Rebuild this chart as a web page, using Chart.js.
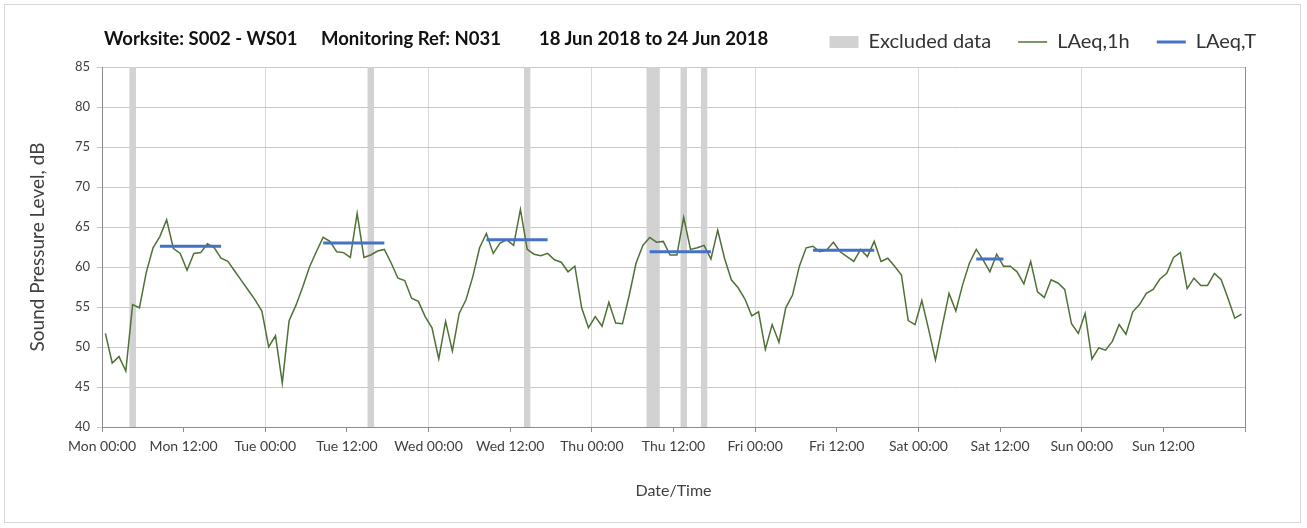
<!DOCTYPE html>
<html>
<head>
<meta charset="utf-8">
<script src="https://cdn.jsdelivr.net/npm/chart.js@4.4.1/dist/chart.umd.min.js"></script>
<style>
html,body{margin:0;padding:0;background:#fff;}
#wrap{position:relative;width:1307px;height:528px;overflow:hidden;background:#fff;}
#c{position:absolute;left:0;top:0;}
#frame{position:absolute;left:4px;top:4px;width:1297px;height:519px;border:1px solid #d9d9d9;box-sizing:border-box;pointer-events:none;}
.t{position:absolute;top:27px;font:bold 18.5px Lato,"Open Sans",sans-serif;color:#111;white-space:nowrap;line-height:22px;}
</style>
</head>
<body>
<div id="wrap">
  <canvas id="c" width="1307" height="528"></canvas>
  <div id="frame"></div>
  <div class="t" style="left:104px">Worksite: S002 - WS01</div>
  <div class="t" style="left:321px">Monitoring Ref: N031</div>
  <div class="t" style="left:539px">18 Jun 2018 to 24 Jun 2018</div>
</div>
<script>
// ---- Data ----
// x tick labels every 12 hours
const tickLabels = ["Mon 00:00","Mon 12:00","Tue 00:00","Tue 12:00","Wed 00:00","Wed 12:00",
  "Thu 00:00","Thu 12:00","Fri 00:00","Fri 12:00","Sat 00:00","Sat 12:00","Sun 00:00","Sun 12:00"];

// LAeq,1h hourly values (dB), Mon 00:00 .. Sun 23:00
const laeq1h = [
  51.7,48.0,48.8,47.0,55.3,54.9,59.3,62.4,63.8,65.9,62.3,61.7,59.6,61.7,61.8,62.9,62.4,61.1,60.7,59.5,58.3,57.1,55.9,54.5,
  50.0,51.4,45.5,53.3,55.2,57.5,60.0,61.9,63.7,63.2,61.9,61.8,61.2,66.7,61.2,61.5,62.0,62.2,60.5,58.6,58.3,56.1,55.7,53.8,
  52.4,48.5,53.2,49.5,54.2,55.9,58.8,62.4,64.2,61.7,63.0,63.4,62.7,67.2,62.2,61.6,61.4,61.7,60.9,60.6,59.4,60.1,54.9,52.4,
  53.8,52.6,55.6,53.0,52.9,56.5,60.5,62.7,63.7,63.1,63.2,61.5,61.5,66.2,62.2,62.4,62.7,61.0,64.6,61.1,58.4,57.4,56.0,53.9,
  54.4,49.7,52.8,50.6,54.9,56.5,60.1,62.4,62.6,61.9,62.1,63.1,61.9,61.3,60.7,62.2,61.3,63.2,60.7,61.1,60.1,59.0,53.3,52.8,
  55.8,52.2,48.4,52.6,56.7,54.5,57.8,60.5,62.2,60.9,59.4,61.6,60.1,60.1,59.4,57.9,60.7,56.9,56.2,58.4,58.0,57.2,52.9,51.7,
  54.2,48.5,49.9,49.6,50.7,52.8,51.6,54.4,55.3,56.7,57.2,58.5,59.2,61.2,61.8,57.3,58.6,57.7,57.7,59.2,58.4,56.1,53.6,54.1
];
// hour (from Mon 00:00) at which each hourly value is plotted (mid-hour)
const laeq1hHours = laeq1h.map((v, i) => i + 0.5);

// LAeq,T daytime periods: start hour, end hour, level
const laeqTStart = [8.5, 32.5, 56.5, 80.5, 104.5, 128.5];
const laeqTEnd   = [17.5, 41.5, 65.5, 89.5, 113.5, 132.5];
const laeqTValue = [62.6, 63.0, 63.4, 61.9, 62.1, 61.0];

// Excluded data periods (hours from Mon 00:00)
const excludedStart = [4, 39, 62, 80, 85, 88];
const excludedEnd   = [5, 40, 63, 82, 86, 89];

const yMin = 40, yMax = 85, yStep = 5;
const xMax = 168, xStep = 12;

// ---- Build datasets ----
const lPts = laeq1h.map((v, i) => ({x: laeq1hHours[i], y: v}));
const tPts = [];
laeqTStart.forEach((s, i) => {
  tPts.push({x: s, y: laeqTValue[i]}, {x: laeqTEnd[i], y: laeqTValue[i]}, {x: laeqTEnd[i], y: null});
});
const exPts = [];
excludedStart.forEach((s, i) => {
  exPts.push({x: s, y: yMax}, {x: excludedEnd[i], y: yMax}, {x: excludedEnd[i], y: null});
});

const FONT = 'Lato, "Open Sans", sans-serif';
const GREEN = '#4f7136', BLUE = '#4472c4', GREY = '#d2d2d2';

new Chart(document.getElementById('c'), {
  type: 'line',
  data: {
    datasets: [
      {label: 'Excluded data', data: exPts, borderWidth: 0, borderColor: 'rgba(0,0,0,0)',
       backgroundColor: GREY, fill: 'start', spanGaps: false, pointRadius: 0, pointStyle: 'rect',
       pointBackgroundColor: GREY, pointBorderWidth: 0, order: 3},
      {label: 'LAeq,1h', data: lPts, borderColor: GREEN, borderWidth: 1.5, fill: false,
       pointRadius: 0, pointStyle: 'line', pointBorderColor: GREEN, pointBorderWidth: 1.5, order: 2},
      {label: 'LAeq,T', data: tPts, borderColor: BLUE, borderWidth: 3, fill: false, spanGaps: false,
       borderCapStyle: 'butt', pointRadius: 0, pointStyle: 'line', pointBorderColor: BLUE, pointBorderWidth: 3, order: 1}
    ]
  },
  options: {
    responsive: false,
    animation: false,
    events: [],
    layout: {padding: {left: 10, right: 24, top: 5, bottom: 10}},
    plugins: {
      legend: {
        position: 'top', align: 'end',
        labels: {
          usePointStyle: true, pointStyleWidth: 29, boxHeight: 12, padding: 27,
          color: '#333', font: {family: FONT, size: 20},
          sort: (a, b) => a.datasetIndex - b.datasetIndex
        }
      },
      subtitle: {display: true, text: '', weight: 500, padding: {top: 0, bottom: 4}, font: {size: 1, lineHeight: 1}},
      tooltip: {enabled: false}
    },
    scales: {
      x: {
        type: 'linear', min: 0, max: xMax,
        ticks: {
          stepSize: xStep, autoSkip: false, maxRotation: 0, minRotation: 0, padding: 6,
          color: '#404040', font: {family: FONT, size: 14},
          callback: (v) => tickLabels[Math.round(v / xStep)] || ''
        },
        grid: {
          color: (ctx) => (ctx.tick && ctx.tick.value % 24 === 0) ? '#d9d9d9' : 'rgba(0,0,0,0)',
          tickColor: '#8c8c8c', tickLength: 5, lineWidth: 1
        },
        border: {color: '#8c8c8c', width: 1},
        title: {display: true, text: 'Date/Time', color: '#404040', font: {family: FONT, size: 16}, padding: {top: 0, bottom: 18}},
        afterFit: (s) => { s.height = 91; }
      },
      y: {
        min: yMin, max: yMax,
        ticks: {stepSize: yStep, padding: 7, color: '#404040', font: {family: FONT, size: 13}},
        grid: {color: '#c8c8c8', tickColor: '#c8c8c8', tickLength: 5},
        border: {color: '#8c8c8c', width: 1},
        title: {display: true, text: 'Sound Pressure Level, dB', color: '#404040', font: {family: FONT, size: 19}, padding: {top: 16, bottom: 0}},
        afterFit: (s) => { s.width = 92; }
      },
      y2: {
        position: 'right', min: yMin, max: yMax,
        ticks: {display: false},
        grid: {drawOnChartArea: false, drawTicks: false},
        border: {color: '#8c8c8c', width: 1},
        afterFit: (s) => { s.width = 38; }
      }
    }
  }
});
</script>
</body>
</html>
